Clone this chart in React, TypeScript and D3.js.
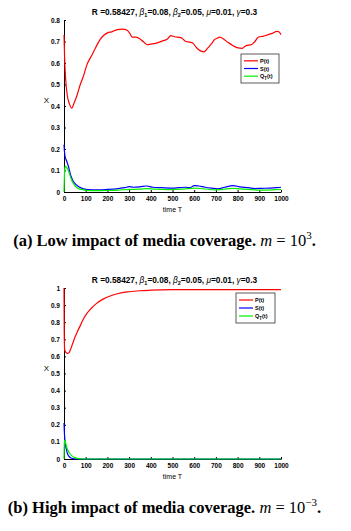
import React, { useEffect, useRef } from 'react';
import * as d3 from 'd3';

// [time, value] pairs
const P_LOW: [number, number][] = [
  [0, 0.73], [3, 0.62], [8, 0.52], [15, 0.45], [25, 0.41], [36, 0.39], [45, 0.41], [60, 0.45],
  [75, 0.5], [90, 0.54], [105, 0.59], [125, 0.63], [145, 0.67], [167, 0.71], [185, 0.73],
  [200, 0.74], [220, 0.745], [245, 0.755], [270, 0.758], [291, 0.752], [305, 0.735], [314, 0.72],
  [330, 0.72], [345, 0.715], [365, 0.7], [384, 0.685], [400, 0.688], [415, 0.69], [440, 0.697],
  [461, 0.705], [475, 0.71], [492, 0.727], [510, 0.722], [539, 0.718], [562, 0.7], [580, 0.697],
  [593, 0.693], [612, 0.67], [632, 0.655], [645, 0.652], [660, 0.667], [680, 0.69], [693, 0.708],
  [705, 0.715], [717, 0.72], [735, 0.712], [755, 0.696], [780, 0.68], [802, 0.67], [820, 0.668],
  [833, 0.677], [850, 0.683], [864, 0.685], [880, 0.7], [895, 0.72], [920, 0.725], [941, 0.732],
  [960, 0.738], [981, 0.747], [990, 0.745], [1000, 0.732],
];
const S_LOW: [number, number][] = [
  [0, 0.22], [2, 0.19], [5, 0.165], [10, 0.15], [20, 0.12], [30, 0.08], [40, 0.055], [50, 0.04],
  [60, 0.03], [80, 0.018], [100, 0.012], [130, 0.01], [160, 0.01], [200, 0.012], [250, 0.016],
  [280, 0.02], [300, 0.025], [320, 0.022], [350, 0.024], [380, 0.028], [410, 0.022], [450, 0.02],
  [500, 0.018], [530, 0.02], [560, 0.022], [580, 0.02], [600, 0.03], [620, 0.028], [650, 0.022],
  [680, 0.018], [710, 0.015], [740, 0.022], [780, 0.03], [810, 0.024], [850, 0.02], [880, 0.016],
  [910, 0.017], [950, 0.018], [980, 0.02], [1000, 0.022],
];
const Q_LOW: [number, number][] = [
  [0, 0], [3, 0.1], [6, 0.12], [12, 0.115], [20, 0.1], [30, 0.07], [40, 0.045], [50, 0.03],
  [60, 0.02], [80, 0.012], [100, 0.008], [150, 0.006], [200, 0.007], [250, 0.009], [300, 0.012],
  [350, 0.013], [380, 0.016], [420, 0.013], [480, 0.011], [550, 0.013], [600, 0.018], [640, 0.015],
  [700, 0.01], [780, 0.017], [830, 0.013], [900, 0.009], [960, 0.01], [1000, 0.012],
];

const P_HIGH: [number, number][] = [
  [0, 1.0], [1, 0.75], [3, 0.64], [8, 0.625], [15, 0.618], [22, 0.62], [30, 0.64], [40, 0.675],
  [50, 0.71], [60, 0.74], [75, 0.78], [90, 0.82], [105, 0.85], [125, 0.88], [150, 0.91],
  [180, 0.935], [210, 0.952], [250, 0.968], [300, 0.978], [350, 0.984], [400, 0.987], [450, 0.989],
  [500, 0.99], [600, 0.99], [700, 0.99], [800, 0.99], [900, 0.99], [1000, 0.99],
];
const S_HIGH: [number, number][] = [
  [0, 0.21], [2, 0.15], [5, 0.1], [10, 0.06], [15, 0.035], [20, 0.02], [30, 0.008], [40, 0.003],
  [60, 0], [1000, 0],
];
const Q_HIGH: [number, number][] = [
  [0, 0], [2, 0.1], [4, 0.11], [8, 0.09], [15, 0.06], [25, 0.035], [35, 0.02], [50, 0.008],
  [70, 0.002], [90, 0], [1000, 0],
];

const X_TICKS = [0, 100, 200, 300, 400, 500, 600, 700, 800, 900, 1000];
const Y_TICKS_LOW = [0, 0.1, 0.2, 0.3, 0.4, 0.5, 0.6, 0.7, 0.8];
const Y_TICKS_HIGH = [0, 0.1, 0.2, 0.3, 0.4, 0.5, 0.6, 0.7, 0.8, 0.9, 1];

const COLORS = { P: '#ff0000', S: '#0000ff', Q: '#00ee00' };
const SANS = 'Liberation Sans, Arial, sans-serif';
const SERIF = 'Liberation Serif, Times New Roman, serif';

type Panel = {
  top: number; bottom: number; yMax: number; yTicks: number[];
  P: [number, number][]; S: [number, number][]; Q: [number, number][];
  legend: { x: number; y: number; w: number; h: number };
  tag: string; exp: string;
};

const PANELS: Panel[] = [
  { top: 20, bottom: 192, yMax: 0.8, yTicks: Y_TICKS_LOW, P: P_LOW, S: S_LOW, Q: Q_LOW,
    legend: { x: 241, y: 54, w: 38, h: 29 }, tag: '(a) Low', exp: '3' },
  { top: 288, bottom: 459, yMax: 1, yTicks: Y_TICKS_HIGH, P: P_HIGH, S: S_HIGH, Q: Q_HIGH,
    legend: { x: 236, y: 293, w: 39, h: 30 }, tag: '(b) High', exp: '\u22123' },
];

const LEFT = 64;
const RIGHT = 281;

export default function App() {
  const ref = useRef<SVGSVGElement>(null);

  useEffect(() => {
    const svg = d3.select(ref.current);
    svg.selectAll('*').remove();

    PANELS.forEach((p) => {
      const x = d3.scaleLinear().domain([0, 1000]).range([LEFT, RIGHT]);
      const y = d3.scaleLinear().domain([0, p.yMax]).range([p.bottom, p.top]);
      const g = svg.append('g');

      // title
      const title = g.append('text')
        .attr('x', (LEFT + RIGHT) / 2 + 2).attr('y', p.top - 5)
        .attr('text-anchor', 'middle')
        .style('font-family', SANS).style('font-size', '8.3px').style('font-weight', 'bold');
      title.append('tspan').text('R =0.58427,  ');
      title.append('tspan').attr('font-style', 'italic').style('font-weight', 'normal').text('\u03b2');
      title.append('tspan').attr('dy', 2).style('font-size', '5.5px').text('1');
      title.append('tspan').attr('dy', -2).text('=0.08, ');
      title.append('tspan').attr('font-style', 'italic').style('font-weight', 'normal').text('\u03b2');
      title.append('tspan').attr('dy', 2).style('font-size', '5.5px').text('2');
      title.append('tspan').attr('dy', -2).text('=0.05, ');
      title.append('tspan').attr('font-style', 'italic').style('font-weight', 'normal').text('\u03bc');
      title.append('tspan').text('=0.01, ');
      title.append('tspan').attr('font-style', 'italic').style('font-weight', 'normal').text('\u03b3');
      title.append('tspan').text('=0.3');

      // axes
      const xAxis = g.append('g')
        .attr('transform', `translate(0,${p.bottom})`)
        .call(d3.axisBottom(x).tickValues(X_TICKS).tickSizeInner(-2).tickSizeOuter(0).tickPadding(4).tickFormat(d3.format('d')));
      const yAxis = g.append('g')
        .attr('transform', `translate(${LEFT},0)`)
        .call(d3.axisLeft(y).tickValues(p.yTicks).tickSizeInner(-2).tickSizeOuter(0).tickPadding(4)
          .tickFormat((d) => d3.format('')(+(+d).toFixed(1))));
      [xAxis, yAxis].forEach((a) => {
        a.select('.domain').attr('stroke', '#000').attr('stroke-width', 1);
        a.selectAll('.tick line').attr('stroke', '#000');
        a.selectAll('.tick text')
          .style('font-family', SANS).style('font-size', '6.5px').style('font-weight', 'bold').attr('fill', '#000');
      });

      g.append('text')
        .attr('x', (LEFT + RIGHT) / 2).attr('y', p.bottom + 20)
        .attr('text-anchor', 'middle')
        .style('font-family', SANS).style('font-size', '7px')
        .text('time T');
      g.append('text')
        .attr('x', 46.5).attr('y', (p.top + p.bottom) / 2 - 3)
        .attr('text-anchor', 'middle')
        .style('font-family', SANS).style('font-size', '8px')
        .text('X');

      // lines
      const line = d3.line<[number, number]>()
        .x((d) => x(d[0])).y((d) => y(d[1]))
        .curve(d3.curveMonotoneX);
      ([['P', p.P], ['S', p.S], ['Q', p.Q]] as [keyof typeof COLORS, [number, number][]][]).forEach(([k, data]) => {
        g.append('path').datum(data)
          .attr('d', line)
          .attr('fill', 'none')
          .attr('stroke', COLORS[k])
          .attr('stroke-width', 1.2);
      });

      // legend
      const L = p.legend;
      g.append('rect')
        .attr('x', L.x).attr('y', L.y).attr('width', L.w).attr('height', L.h)
        .attr('fill', '#fff').attr('stroke', '#333').attr('stroke-width', 0.8);
      const rows: [keyof typeof COLORS, string, string][] = [['P', 'P(t)', ''], ['S', 'S(t)', ''], ['Q', 'Q', 'T']];
      const step = (L.h - 6) / 3;
      rows.forEach(([k, lbl, sub], i) => {
        const ry = L.y + 3 + step * (i + 0.5);
        g.append('line')
          .attr('x1', L.x + 3).attr('x2', L.x + 17)
          .attr('y1', ry).attr('y2', ry)
          .attr('stroke', COLORS[k]).attr('stroke-width', 1.2);
        const t = g.append('text')
          .attr('x', L.x + 19).attr('y', ry + 2)
          .style('font-family', SANS).style('font-size', '5.5px').style('font-weight', 'bold');
        t.append('tspan').text(lbl);
        if (sub) {
          t.append('tspan').attr('dy', 1.5).style('font-size', '4.5px').text(sub);
          t.append('tspan').attr('dy', -1.5).text('(t)');
        }
      });

      // caption
      const cap = g.append('text')
        .attr('x', (LEFT + RIGHT) / 2 - 8).attr('y', p.bottom + 54)
        .attr('text-anchor', 'middle')
        .style('font-family', SERIF).style('font-size', '16.5px').style('font-weight', 'bold');
      cap.append('tspan').text(`${p.tag} impact of media coverage. `);
      cap.append('tspan').style('font-style', 'italic').style('font-weight', 'normal').text('m');
      cap.append('tspan').style('font-weight', 'normal').text(' = 10');
      cap.append('tspan').attr('dy', -7).style('font-weight', 'normal').style('font-size', '11px').text(p.exp);
      cap.append('tspan').attr('dy', 7).text('.');
    });
  }, []);

  return (
    <svg ref={ref} width={351} height={531}
      style={{ position: 'absolute', left: 0, top: 0, background: '#fff' }} />
  );
}
